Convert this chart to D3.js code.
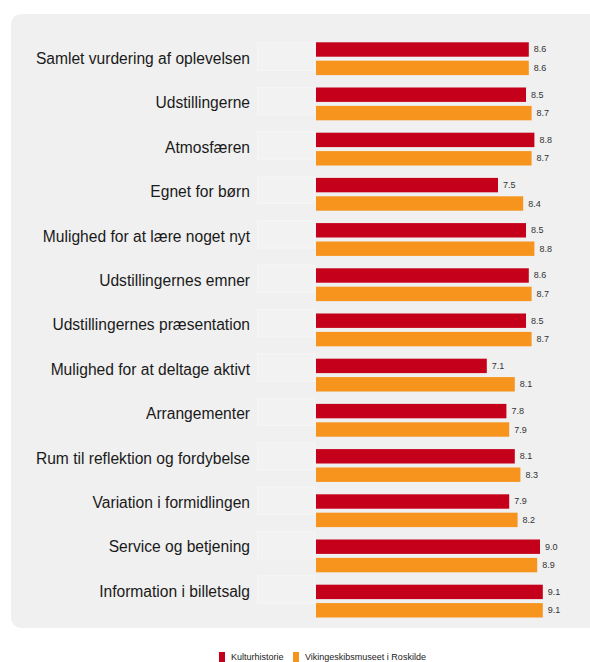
<!DOCTYPE html>
<html><head><meta charset="utf-8">
<script src="https://cdnjs.cloudflare.com/ajax/libs/d3/7.8.5/d3.min.js"></script>
<style>
html,body{margin:0;padding:0;background:#fff;}
svg{display:block;font-family:"Liberation Sans",Arial,Helvetica,sans-serif;}
</style></head>
<body>
<svg id="chart" width="590" height="662"></svg>
<script>
const categories = [
  "Samlet vurdering af oplevelsen",
  "Udstillingerne",
  "Atmosfæren",
  "Egnet for børn",
  "Mulighed for at lære noget nyt",
  "Udstillingernes emner",
  "Udstillingernes præsentation",
  "Mulighed for at deltage aktivt",
  "Arrangementer",
  "Rum til reflektion og fordybelse",
  "Variation i formidlingen",
  "Service og betjening",
  "Information i billetsalg"
];
const seriesNames = ["Kulturhistorie", "Vikingeskibsmuseet i Roskilde"];
const kulturhistorie = [8.6, 8.5, 8.8, 7.5, 8.5, 8.6, 8.5, 7.1, 7.8, 8.1, 7.9, 9.0, 9.1];
const vikingeskibsmuseet = [8.6, 8.7, 8.7, 8.4, 8.8, 8.7, 8.7, 8.1, 7.9, 8.3, 8.2, 8.9, 9.1];
const seriesColors = ["#c5001a", "#f7941e"];

const svg = d3.select("#chart");

// panel
svg.append("rect").attr("x", 11).attr("y", 14).attr("width", 600).attr("height", 614)
  .attr("rx", 10).attr("fill", "#f0f0f0");

const x = d3.scaleLinear().domain([1, 10]).range([316, 568]);
const y = d3.scaleBand().domain(categories).range([36.1, 623.7]).paddingInner(0.274).paddingOuter(0.137);
const ySub = d3.scaleBand().domain([0, 1]).range([0, y.bandwidth()]).paddingInner(0.217);
const yLabel = d3.scalePoint().domain(categories).range([58.5, 591.3]);

const rows = categories.map((c, i) => ({cat: c, vals: [kulturhistorie[i], vikingeskibsmuseet[i]]}));

// label column
const lab = svg.append("g").selectAll("g").data(categories).join("g")
  .attr("transform", d => `translate(0,${yLabel(d)})`);
lab.append("rect").attr("x", 257.5).attr("y", -15.5).attr("width", 57).attr("height", 27.4)
  .attr("fill", "#f2f2f2").attr("stroke", "#f6f6f6").attr("stroke-width", 1);
lab.append("text")
  .attr("x", 250).attr("y", 0)
  .attr("text-anchor", "end").attr("dominant-baseline", "central")
  .attr("font-size", "15.6px").attr("fill", "#1a1a1a")
  .text(d => d);

const g = svg.append("g").selectAll("g").data(rows).join("g")
  .attr("transform", d => `translate(0,${y(d.cat)})`);

g.selectAll("rect.bar").data(d => d.vals).join("rect").attr("class", "bar")
  .attr("x", x(1)).attr("y", (v, j) => ySub(j))
  .attr("width", v => x(v) - x(1)).attr("height", ySub.bandwidth())
  .attr("fill", (v, j) => seriesColors[j]);

g.selectAll("text.val").data(d => d.vals).join("text").attr("class", "val")
  .attr("x", v => x(v) + 5).attr("y", (v, j) => ySub(j) + ySub.bandwidth() / 2)
  .attr("dominant-baseline", "central")
  .attr("font-size", "9px").attr("fill", "#333")
  .text(v => v.toFixed(1));

// legend
const legendX = [219, 293];
const lg = svg.append("g").selectAll("g").data(seriesNames).join("g")
  .attr("transform", (d, i) => `translate(${legendX[i]},652)`);
lg.append("rect").attr("width", 6).attr("height", 11).attr("fill", (d, i) => seriesColors[i]);
lg.append("text").attr("x", 12).attr("y", 8).attr("font-size", "9px").attr("fill", "#222").text(d => d);
</script>
</body></html>
